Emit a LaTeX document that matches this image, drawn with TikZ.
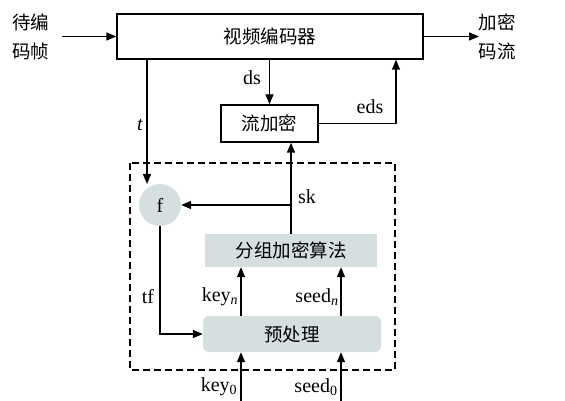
\documentclass[tikz,border=0pt]{standalone}
\usepackage{fontspec}
\setmainfont{Liberation Serif}
\newfontfamily\cjk{Noto Sans CJK SC}
\usetikzlibrary{arrows.meta,positioning}
\definecolor{boxgray}{RGB}{213,223,224}
\tikzset{
  line/.style={line width=1.4pt},
  arr/.style={line, -{Triangle[length=10pt,width=8pt]}},
  plainbox/.style={draw, line width=1.4pt, fill=white, inner sep=0pt},
  graybox/.style={fill=boxgray, inner sep=0pt},
  lbl/.style={inner sep=0pt, font=\fontsize{20}{24}\selectfont},
  cn/.style={inner sep=0pt, font=\cjk\fontsize{18.5}{22}\selectfont},
}
\newcommand{\sub}[1]{\textsubscript{#1}}
\begin{document}
\begin{tikzpicture}[x=1pt,y=-1pt]
\useasboundingbox (0,0) rectangle (565,401);
% dashed region
\draw[line width=1.3pt, dash pattern=on 7pt off 4pt] (130,163) rectangle (395,370);
% boxes
\node[plainbox, minimum width=306pt, minimum height=45pt, cn] (enc) at (270,36.5) {视频编码器};
\node[plainbox, minimum width=97pt, minimum height=37pt, cn] (se) at (269.5,123.5) {流加密};
\node[graybox, minimum width=172pt, minimum height=33pt, cn] (bc) at (291,250.5) {分组加密算法};
\node[graybox, rounded corners=6pt, minimum width=178pt, minimum height=36pt, cn] (pre) at (292,334) {预处理};
\node[circle, fill=boxgray, minimum size=42pt, inner sep=0pt, lbl] (f) at (160,205) {f};
% left/right texts
\node[cn, align=center] (in) at (31,37) {待编\\[7pt]码帧};
\node[cn, align=center] (out) at (497,37) {加密\\[7pt]码流};
\coordinate (inA) at (62,36.5);
\coordinate (outB) at (479,36.5);
\draw[arr] (inA) -- (enc.west);
\draw[arr] (enc.east) -- (outB);
% ds
\draw[arr] (enc.south -| se.north) -- (se.north);
\node[lbl] at (252,78) {ds};
% eds
\coordinate (edsC) at (396,123.5);
\draw[arr] (se.east) -- (edsC) -- (edsC |- enc.south);
\node[lbl] at (370,107) {eds};
% t
\coordinate (tTop) at (147,59);
\draw[arr] (tTop) -- (147,184);
\node[lbl] at (140,125) {\itshape t};
% sk
\coordinate (skJ) at (291,205);
\draw[arr] (bc.north) -- (bc.north |- se.south);
\draw[arr] (skJ) -- (f.east);
\node[lbl] at (307,197) {sk};
% key_n seed_n
\coordinate (kx) at (241,0);
\coordinate (sx) at (341,0);
\draw[arr] (kx |- pre.north) -- (kx |- bc.south);
\draw[arr] (sx |- pre.north) -- (sx |- bc.south);
\node[lbl] at (220,297) {key\sub{\itshape n}};
\node[lbl] at (317,297) {seed\sub{\itshape n}};
% tf
\coordinate (tfC) at (160,334);
\draw[arr] (f.south) -- (tfC) -- (pre.west);
\node[lbl] at (148,297) {tf};
% key0 seed0
\coordinate (k0) at (241,401);
\coordinate (s0) at (341,401);
\draw[arr] (k0) -- (k0 |- pre.south);
\draw[arr] (s0) -- (s0 |- pre.south);
\node[lbl] at (219,387) {key\sub{0}};
\node[lbl] at (316,387) {seed\sub{0}};
\end{tikzpicture}
\end{document}
